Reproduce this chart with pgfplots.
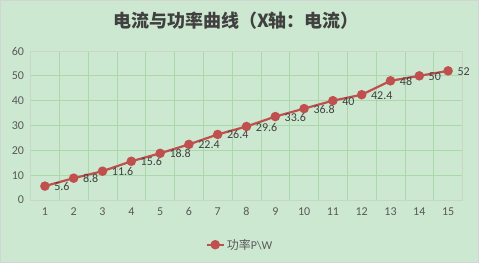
\documentclass[border=0pt]{standalone}
\usepackage{pgfplots}
\pgfplotsset{compat=1.18}
\usepackage{fontspec}
\setmainfont{Carlito}
\newfontfamily\cjk{Noto Sans CJK SC}
\definecolor{bg}{RGB}{205,232,208}
\definecolor{gridc}{RGB}{170,216,170}
\definecolor{framec}{RGB}{200,214,200}
\definecolor{outer}{RGB}{210,214,210}
\definecolor{linec}{RGB}{192,80,77}
\definecolor{tickc}{RGB}{89,89,89}
\definecolor{lblc}{RGB}{64,64,64}
\definecolor{titlec}{RGB}{64,64,64}
\begin{document}
\begin{tikzpicture}[x=1pt,y=1pt]
\path[use as bounding box] (0,0) rectangle (479,263);
\fill[bg] (0,0) rectangle (479,263);
\draw[outer,line width=1pt] (0.5,0.5) rectangle (478.5,262.5);
\node[text=titlec,font=\cjk\bfseries\fontsize{18}{20}\selectfont] at (236,242) {电流与功率曲线（X轴：电流）};
\begin{axis}[
  at={(30.5pt,63pt)}, anchor=south west,
  scale only axis, width=432pt, height=149pt,
  xmin=0.5, xmax=15.5, ymin=0, ymax=60,
  xtick={1,...,15}, ytick={0,10,...,60},
  minor xtick={0.5,1.5,...,15.5},
  xminorgrids=true, ymajorgrids=true, xmajorgrids=false,
  grid style={gridc, line width=0.8pt},
  minor grid style={gridc, line width=0.8pt},
  axis line style={framec, line width=0.8pt},
  major tick length=0pt, minor tick length=0pt,
  tick style={draw=none},
  ticklabel style={font=\fontsize{12}{14}\selectfont, text=tickc},
  /pgf/number format/assume math mode=true,
  xticklabel style={yshift=-4pt},
  yticklabel style={xshift=-3pt},
  clip=false,
  legend style={at={(rel axis cs:0.485,-0.30)}, anchor=center, draw=none, fill=none,
    font=\fontsize{12}{14}\selectfont, text=tickc, legend columns=1},
  legend cell align=left,
  legend image post style={line width=2.2pt, mark size=3.6pt},
]
\addplot[linec, line width=2.2pt, mark=*, mark size=3.6pt, mark options={fill=linec, draw=linec},
  nodes near coords, point meta=explicit symbolic,
  every node near coord/.append style={anchor=west, xshift=5pt, yshift=-0.5pt, text=lblc, font=\fontsize{12}{14}\selectfont}]
table[meta=lab] {
x y lab
1 5.6 5.6
2 8.8 8.8
3 11.6 11.6
4 15.6 15.6
5 18.8 18.8
6 22.4 22.4
7 26.4 26.4
8 29.6 29.6
9 33.6 33.6
10 36.8 36.8
11 40 40
12 42.4 42.4
13 48 48
14 50 50
15 52 52
};
\addlegendentry{{\cjk 功率}P\textbackslash W}
\end{axis}
\end{tikzpicture}
\end{document}
